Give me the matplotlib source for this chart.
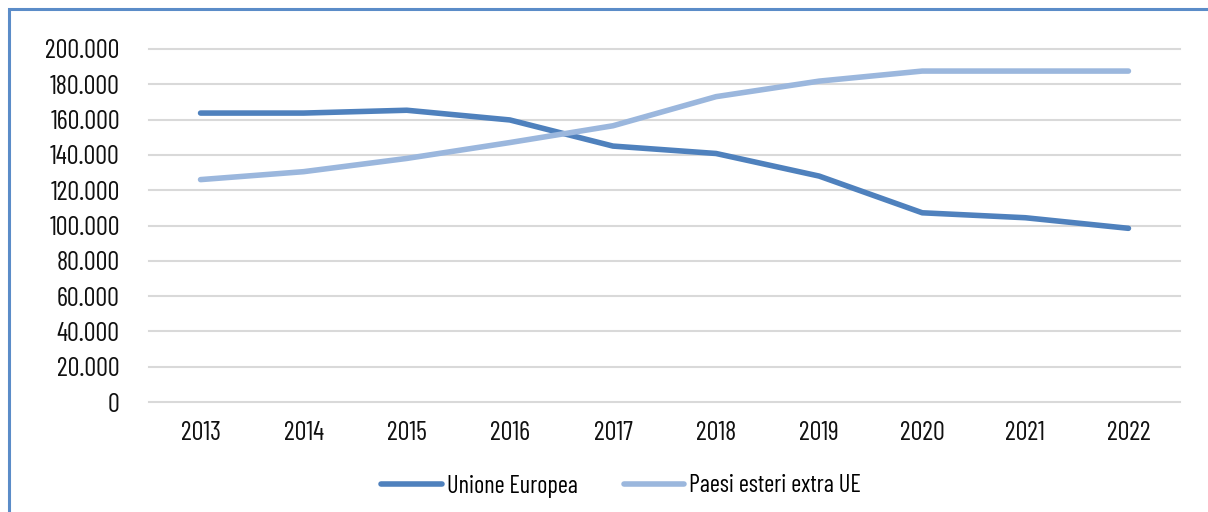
import matplotlib
matplotlib.use("Agg")
import matplotlib.pyplot as plt
from matplotlib.ticker import FuncFormatter
from matplotlib.patches import Rectangle
from matplotlib.lines import Line2D
from matplotlib import font_manager

years = ["2013", "2014", "2015", "2016", "2017", "2018", "2019", "2020", "2021", "2022"]
unione_europea = [163700, 163700, 165300, 159800, 145000, 140800, 128000, 107200, 104400, 98400]
extra_ue = [126000, 130500, 138000, 147000, 156500, 173000, 181800, 187500, 187500, 187500]
series_names = ["Unione Europea", "Paesi esteri extra UE"]

FS = 19
fpath = None
for pref in ["BarlowCondensed-Regular.ttf", "DejaVuSansCondensed.ttf"]:
    for f in font_manager.fontManager.ttflist:
        if f.fname.endswith("/" + pref):
            fpath = f.fname
            break
    if fpath:
        break

def fp(size=FS):
    if fpath:
        return font_manager.FontProperties(fname=fpath, size=size)
    return font_manager.FontProperties(family="DejaVu Sans", size=size)

c_eu = "#4f81bd"
c_ex = "#9bb7dd"

fig = plt.figure(figsize=(12.08, 5.12), dpi=100)
ax = fig.add_axes([149/1208, 110/512, (1180-149)/1208, (402-49)/512])

x = list(range(len(years)))
ax.plot(x, unione_europea, color=c_eu, lw=4.0, solid_capstyle="round", solid_joinstyle="round", zorder=3)
ax.plot(x, extra_ue, color=c_ex, lw=4.0, solid_capstyle="round", solid_joinstyle="round", zorder=3)

ax.set_xlim(-0.5, len(years) - 0.5)
ax.set_ylim(0, 200000)
ax.set_yticks(range(0, 200001, 20000))
ax.yaxis.set_major_formatter(FuncFormatter(lambda v, p: f"{int(v):,}".replace(",", ".")))
ax.set_xticks(x)
ax.set_xticklabels(years)
ax.grid(axis="y", color="#d9d9d9", lw=1.5)
for gl in ax.get_ygridlines():
    gl.set_clip_on(False)
ax.set_axisbelow(True)
for s in ax.spines.values():
    s.set_visible(False)
ax.tick_params(length=0, colors="#111111")
ax.tick_params(axis="y", pad=21)
ax.tick_params(axis="x", pad=14)
for lab in ax.get_xticklabels() + ax.get_yticklabels():
    lab.set_fontproperties(fp())

handles = [Line2D([], [], color=c_eu, lw=4.0, solid_capstyle="round"),
           Line2D([], [], color=c_ex, lw=4.0, solid_capstyle="round")]
fig.legend(handles, series_names, loc="center", bbox_to_anchor=(621/1208, 1 - 486/512),
           ncol=2, frameon=False, prop=fp(17.5), handlelength=2.5, handletextpad=0.2,
           columnspacing=1.9)

fig.patches.append(Rectangle((9/1208, -0.1), 1.2, (1 - 9/512) + 0.1, transform=fig.transFigure,
                             fill=False, edgecolor="#5b8cc8", lw=2.2))

fig.savefig("out.png", dpi=100)
